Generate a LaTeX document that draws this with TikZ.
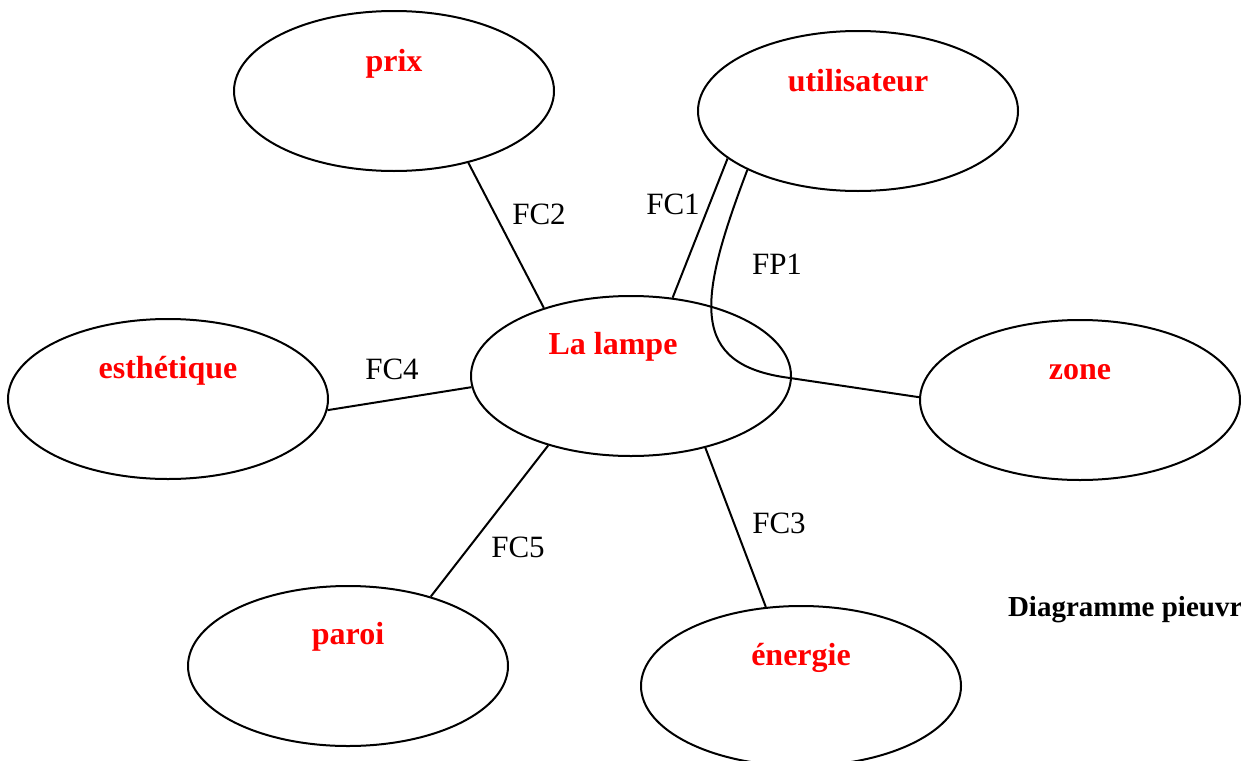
\documentclass[tikz,border=0pt]{standalone}
\usepackage{fontspec}
\setmainfont{Liberation Serif}
\usetikzlibrary{shapes.geometric}

\begin{document}
\begin{tikzpicture}[x=0.5pt,y=-0.5pt,line width=1pt,
	bulle/.style={draw,ellipse,minimum width=160pt,minimum height=80pt,inner sep=0pt},
	nom/.style={text=red,font=\fontsize{16}{19}\selectfont\bfseries},
	fc/.style={font=\fontsize{15.5}{18}\selectfont}]
	\useasboundingbox (0,0) rectangle (1241,760);
	% les ellipses
	\node[bulle,label={[nom,xshift=-9pt,yshift=14.5pt]center:La lampe}] (lampe) at (631,376) {};
	\node[bulle,label={[nom,yshift=13.5pt]center:prix}] (prix) at (394,91) {};
	\node[bulle,label={[nom,yshift=15pt]center:utilisateur}] (util) at (858,111) {};
	\node[bulle,label={[nom,yshift=14pt]center:esthétique}] (esth) at (168,399) {};
	\node[bulle,label={[nom,yshift=14pt]center:zone}] (zone) at (1080,400) {};
	\node[bulle,label={[nom,yshift=14.5pt]center:paroi}] (paroi) at (348,666) {};
	\node[bulle,label={[nom,yshift=14pt]center:énergie}] (energie) at (801,686) {};
	% les liens
	\draw (prix.-44) -- (lampe.142);
	\draw (util.200) -- (lampe.62);
	\draw (esth.-4) -- (lampe.184);
	\draw (lampe.220) -- (paroi.40);
	\draw (lampe.-44) -- (energie.114);
	\coordinate (coude) at (790,378);
	\draw (util.208) .. controls (698,300) and (688,365) .. (coude) -- (zone.179);
	% les fonctions
	\node[fc] (fc2) at (539,214) {FC2};
	\node[fc] (fc1) at (673,204) {FC1};
	\node[fc] (fp1) at (777,264) {FP1};
	\node[fc] (fc4) at (392,369) {FC4};
	\node[fc] (fc5) at (518,547) {FC5};
	\node[fc] (fc3) at (779,523) {FC3};
	\node[anchor=west,inner sep=0pt,font=\fontsize{14.5}{17}\selectfont\bfseries] (titre) at (1007,610) {Diagramme pieuvre};
\end{tikzpicture}
\end{document}
